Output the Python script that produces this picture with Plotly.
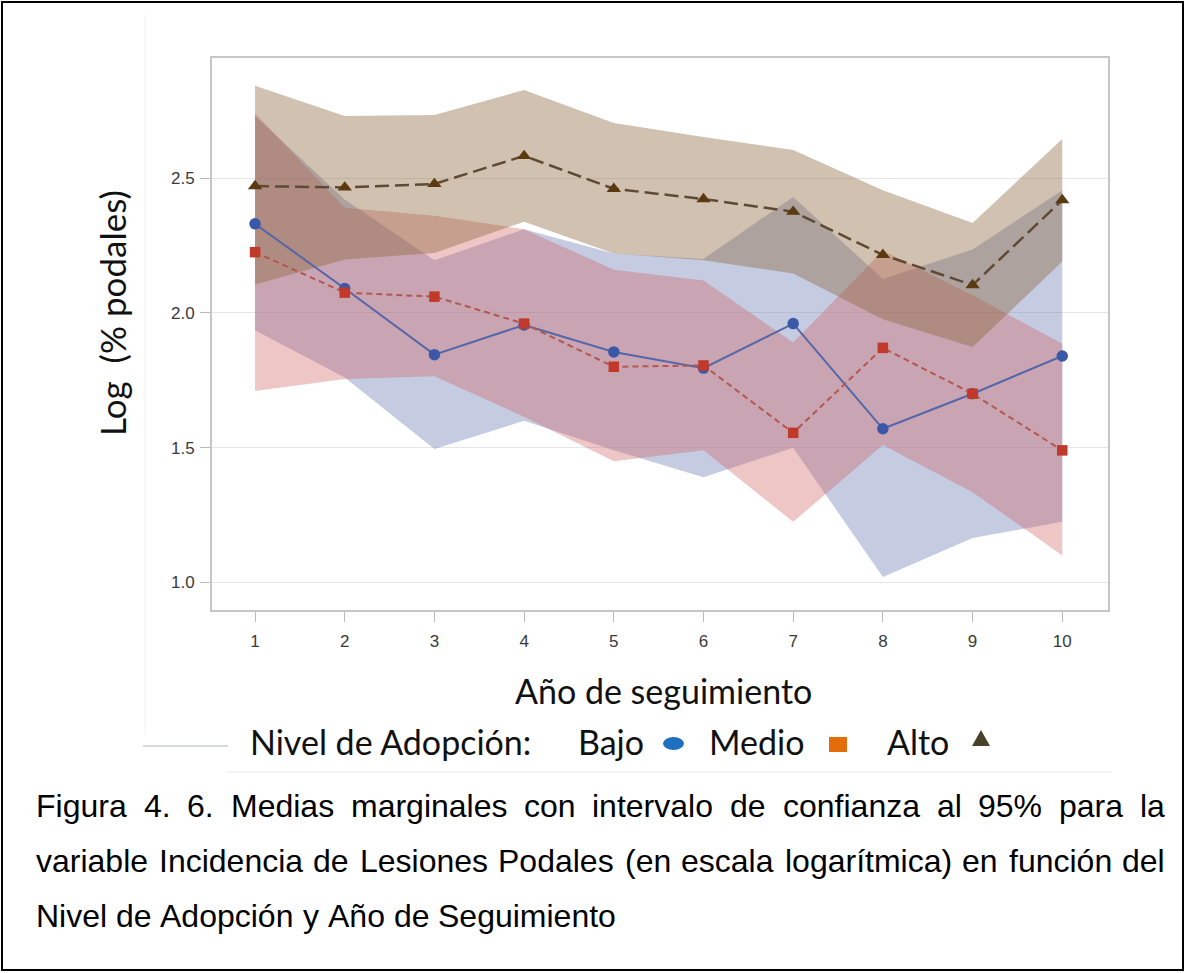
import plotly.graph_objects as go

# ---------------- data ----------------
years = [1, 2, 3, 4, 5, 6, 7, 8, 9, 10]
y_ticks = [1.0, 1.5, 2.0, 2.5]
y_ticktext = ["1.0", "1.5", "2.0", "2.5"]

bajo_mean = [2.33, 2.09, 1.845, 1.955, 1.855, 1.795, 1.96, 1.57, 1.70, 1.84]
bajo_lo = [1.935, 1.76, 1.495, 1.60, 1.49, 1.39, 1.50, 1.02, 1.165, 1.225]
bajo_hi = [2.73, 2.42, 2.195, 2.31, 2.22, 2.20, 2.43, 2.125, 2.235, 2.455]

medio_mean = [2.225, 2.075, 2.06, 1.96, 1.80, 1.805, 1.555, 1.87, 1.70, 1.49]
medio_lo = [1.71, 1.755, 1.765, 1.615, 1.45, 1.49, 1.225, 1.51, 1.335, 1.10]
medio_hi = [2.74, 2.39, 2.36, 2.31, 2.16, 2.12, 1.89, 2.23, 2.065, 1.885]

alto_mean = [2.47, 2.465, 2.478, 2.582, 2.46, 2.422, 2.375, 2.215, 2.103, 2.418]
alto_lo = [2.105, 2.198, 2.222, 2.338, 2.22, 2.195, 2.146, 1.976, 1.873, 2.19]
alto_hi = [2.842, 2.73, 2.734, 2.826, 2.704, 2.652, 2.604, 2.455, 2.333, 2.645]

x_title = "Año de seguimiento"
y_title = "Log  (% podales)"
legend_title = "Nivel de Adopción:"
legend_labels = ["Bajo", "Medio", "Alto"]
caption_lines = [
    "Figura 4. 6. Medias marginales con intervalo de confianza al 95% para la",
    "variable Incidencia de Lesiones Podales (en escala logarítmica) en función del",
    "Nivel de Adopción y Año de Seguimiento",
]

# ---------------- layout helpers ----------------
W, H = 1185, 973
L, R, T, B = 212, 1108, 58, 610


def px(x):
    return (x - L) / (R - L)


def py(y):
    return (B - y) / (B - T)


# Helvetica/Arial advance widths (1/1000 em) for the justified caption
AW = {' ': 278, 'a': 556, 'b': 556, 'c': 500, 'd': 556, 'e': 556, 'f': 278, 'g': 556,
      'h': 556, 'i': 222, 'j': 222, 'k': 500, 'l': 222, 'm': 833, 'n': 556, 'o': 556,
      'p': 556, 'q': 556, 'r': 333, 's': 500, 't': 278, 'u': 556, 'v': 500, 'w': 722,
      'x': 500, 'y': 500, 'z': 500, 'á': 556, 'é': 556, 'í': 278, 'ó': 556, 'ú': 556,
      'ñ': 556, '.': 278, ',': 278, '%': 889, '(': 333, ')': 333, ':': 278,
      'F': 611, 'M': 833, 'I': 278, 'L': 556, 'P': 667, 'N': 722, 'A': 667, 'S': 667,
      'Y': 667}
for d in "0123456789":
    AW[d] = 556


def text_w(s, size):
    return sum(AW.get(ch, 556) for ch in s) * size / 1000.0


fig = go.Figure()

bands = [
    (bajo_lo, bajo_hi, "rgba(111,126,179,0.40)"),
    (medio_lo, medio_hi, "rgba(208,91,91,0.35)"),
    (alto_lo, alto_hi, "rgba(142,104,62,0.41)"),
]
for lo, hi, col in bands:
    fig.add_trace(go.Scatter(
        x=years + years[::-1], y=hi + lo[::-1], mode="lines", fill="toself",
        fillcolor=col, line=dict(width=0), hoverinfo="skip", showlegend=False))

fig.add_trace(go.Scatter(
    x=years, y=bajo_mean, mode="lines+markers",
    line=dict(color="#5566a8", width=2),
    marker=dict(symbol="circle", size=11.5, color="#3b58a8"),
    showlegend=False))
fig.add_trace(go.Scatter(
    x=years, y=medio_mean, mode="lines+markers",
    line=dict(color="#b4574f", width=2, dash="6px,4px"),
    marker=dict(symbol="square", size=10.5, color="#c0392b"),
    showlegend=False))
fig.add_trace(go.Scatter(
    x=years, y=alto_mean, mode="lines+markers",
    line=dict(color="#5e4a33", width=2.5, dash="14px,6px"),
    marker=dict(symbol="triangle-up", size=12.5, color="#5a3a10"),
    showlegend=False))

axis_common = dict(
    showline=True, mirror=True, linecolor="#c6c6c6", linewidth=2,
    ticks="outside", ticklen=10, tickcolor="#b8b8b8", tickwidth=1,
    tickfont=dict(family="Liberation Sans, Arial", size=17, color="#3a3a3a"),
    zeroline=False,
)

fig.update_layout(
    width=W, height=H,
    margin=dict(l=L, r=W - R, t=T, b=H - B, autoexpand=False),
    paper_bgcolor="white", plot_bgcolor="white",
    xaxis=dict(range=[0.52, 10.51], tickvals=years, showgrid=False,
               ticklabelstandoff=5, **axis_common),
    yaxis=dict(range=[0.898, 2.945], tickvals=y_ticks, ticktext=y_ticktext,
               showgrid=True, gridcolor="#e6e6e6", gridwidth=1,
               ticklabelstandoff=2, **axis_common),
    showlegend=False,
)

ann = []
shapes = []
fam = "Lato, Open Sans, sans-serif"
txt_font = dict(family=fam, size=34, color="#111111")

ann.append(dict(text=x_title, x=px(663), y=py(690), xref="paper", yref="paper",
                xanchor="center", yanchor="middle", showarrow=False, font=txt_font))
ann.append(dict(text=y_title, x=px(112), y=py(313), xref="paper", yref="paper",
                xanchor="center", yanchor="middle", showarrow=False, textangle=-90,
                font=dict(family=fam, size=35, color="#111111")))

# legend row (custom, as in the reference)
leg_y = 741
ann.append(dict(text=legend_title, x=px(248), y=py(leg_y), xref="paper", yref="paper",
                xanchor="left", yanchor="middle", showarrow=False, font=txt_font))
for lab, xl in zip(legend_labels, [576, 707, 885]):
    ann.append(dict(text=lab, x=px(xl), y=py(leg_y), xref="paper", yref="paper",
                    xanchor="left", yanchor="middle", showarrow=False, font=txt_font))
shapes.append(dict(type="circle", xref="paper", yref="paper",
                   x0=px(663), x1=px(684), y0=py(750), y1=py(737),
                   fillcolor="#1f6fc0", line=dict(width=0)))
shapes.append(dict(type="rect", xref="paper", yref="paper",
                   x0=px(829), x1=px(847), y0=py(752), y1=py(737),
                   fillcolor="#e46c0a", line=dict(width=0)))
shapes.append(dict(type="path", xref="paper", yref="paper",
                   path="M %f,%f L %f,%f L %f,%f Z" % (px(972), py(746), px(990), py(746),
                                                      px(981), py(730)),
                   fillcolor="#4a4228", line=dict(width=0)))
# faint edges of the pasted chart image
shapes.append(dict(type="line", xref="paper", yref="paper",
                   x0=px(143), x1=px(228), y0=py(746), y1=py(746),
                   line=dict(color="#d6dae0", width=2)))
shapes.append(dict(type="line", xref="paper", yref="paper",
                   x0=px(227), x1=px(1112), y0=py(772), y1=py(772),
                   line=dict(color="#f2f2f2", width=1.5)))
shapes.append(dict(type="line", xref="paper", yref="paper",
                   x0=px(145), x1=px(145), y0=py(15), y1=py(735),
                   line=dict(color="#f6f6f6", width=1.5)))

# caption, justified (first two lines) like the original document
cap_size = 32
cap_left, cap_right = 34, 1163
cap_y = [806, 861, 916]
cap_font = dict(family="Liberation Sans, Arial", size=cap_size, color="#000000")
for i, line in enumerate(caption_lines):
    words = line.split(" ")
    if i < len(caption_lines) - 1:
        total = sum(text_w(w, cap_size) for w in words)
        gap = (cap_right - cap_left - total) / (len(words) - 1)
    else:
        gap = text_w(" ", cap_size)
    xcur = cap_left
    for w in words:
        ann.append(dict(text=w, x=px(xcur), y=py(cap_y[i]), xref="paper", yref="paper",
                        xanchor="left", yanchor="middle", showarrow=False, font=cap_font))
        xcur += text_w(w, cap_size) + gap

# outer black border of the figure box
shapes.append(dict(type="rect", xref="paper", yref="paper",
                   x0=px(2), x1=px(1183), y0=py(970), y1=py(2),
                   line=dict(color="#000000", width=2), fillcolor="rgba(0,0,0,0)"))

fig.update_layout(annotations=ann, shapes=shapes)
fig.write_html("out.html")
